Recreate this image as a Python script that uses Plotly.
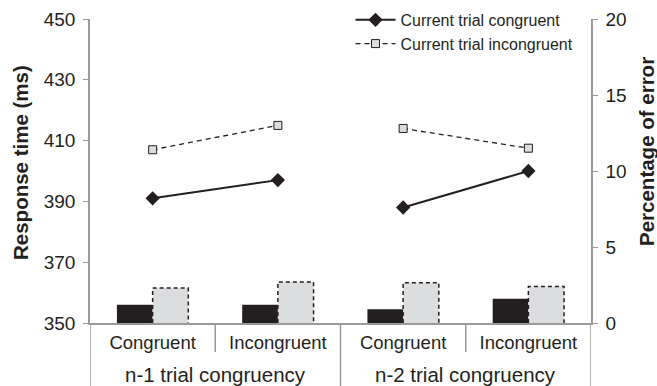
import plotly.graph_objects as go

categories = ["Congruent", "Incongruent", "Congruent", "Incongruent"]
groups = ["n-1 trial congruency", "n-2 trial congruency"]
rt_congruent = [391, 397, 388, 400]
rt_incongruent = [407, 415, 414, 407.5]
err_congruent = [1.2, 1.2, 0.9, 1.6]
err_incongruent = [2.3, 2.7, 2.65, 2.4]
rt_ticks = [350, 370, 390, 410, 430, 450]
err_ticks = [0, 5, 10, 15, 20]

FONT = "Liberation Sans, Arial, sans-serif"
TXT = "#231f20"
AX = "#9a9a9a"
xs = list(range(len(categories)))
BW = 0.285

fig = go.Figure()
fig.add_trace(go.Bar(x=xs, y=err_congruent, yaxis="y2", width=BW, offset=-BW,
                     marker=dict(color="#231f20", line=dict(width=0)), showlegend=False))
fig.add_trace(go.Bar(x=xs, y=err_incongruent, yaxis="y2", width=BW, offset=0,
                     marker=dict(color="#dcdddf", line=dict(width=0)), showlegend=False))
# dashed outline for light bars
ox, oy = [], []
for xi, h in zip(xs, err_incongruent):
    ox += [xi, xi, xi + BW, xi + BW, None]
    oy += [0, h, h, 0, None]
fig.add_trace(go.Scatter(x=ox, y=oy, yaxis="y2", mode="lines", showlegend=False,
                         line=dict(color="#231f20", width=1.5, dash="4px,3px"), hoverinfo="skip"))

for g in range(2):
    idx = [2 * g, 2 * g + 1]
    fig.add_trace(go.Scatter(x=[xs[i] for i in idx], y=[rt_congruent[i] for i in idx],
                             mode="lines+markers", name="Current trial congruent",
                             legendgroup="c", showlegend=(g == 0),
                             line=dict(color="#231f20", width=2),
                             marker=dict(symbol="diamond", size=11, color="#231f20")))
    fig.add_trace(go.Scatter(x=[xs[i] for i in idx], y=[rt_incongruent[i] for i in idx],
                             mode="lines+markers", name="Current trial incongruent",
                             legendgroup="i", showlegend=(g == 0),
                             line=dict(color="#231f20", width=1.3, dash="5px,4px"),
                             marker=dict(symbol="square", size=8, color="#dcdddf",
                                         line=dict(color="#231f20", width=1))))

shapes = []
for xv, y0 in [(-0.5, -0.25), (1.5, -0.25), (3.5, -0.25), (0.5, -0.095), (2.5, -0.095)]:
    shapes.append(dict(type="line", xref="x", yref="paper", x0=xv, x1=xv, y0=0, y1=y0,
                       line=dict(color=AX, width=1.5)))

L, R, T, B = 90, 66, 19, 63
W, H = 657, 386
pw, ph = W - L - R, H - T - B

annotations = []
for gi, gname in enumerate(groups):
    annotations.append(dict(x=gi * 2 + 0.5, y=0, xref="x", yref="paper", yshift=-51,
                            text=gname, showarrow=False, yanchor="middle",
                            font=dict(size=20.5, color=TXT, family=FONT)))
for px, py, txt in [(20, 163, "<b>Response time (ms)</b>"), (646, 152, "<b>Percentage of error</b>")]:
    annotations.append(dict(x=(px - L) / pw, y=(H - B - py) / ph, xref="paper", yref="paper",
                            text=txt, showarrow=False, textangle=-90, xanchor="center",
                            yanchor="middle", font=dict(size=20.5, color=TXT, family=FONT)))

fig.update_layout(
    width=W, height=H,
    margin=dict(l=L, r=R, t=T, b=B, autoexpand=False),
    paper_bgcolor="white", plot_bgcolor="white",
    barmode="overlay",
    font=dict(family=FONT, color=TXT),
    xaxis=dict(range=[-0.5, 3.5], tickvals=xs, ticktext=categories, showgrid=False,
               zeroline=False, showline=True, linecolor=AX, linewidth=1.5, ticks="",
               tickfont=dict(size=18.5, color=TXT, family=FONT), ticklabelstandoff=2,
               automargin=False),
    yaxis=dict(range=[350, 450], tickvals=rt_ticks, showgrid=False, zeroline=False,
               showline=True, linecolor=AX, linewidth=1.5, ticks="outside", ticklen=5,
               tickcolor=AX, tickfont=dict(size=19, color=TXT, family=FONT), ticklabelstandoff=4,
               automargin=False),
    yaxis2=dict(range=[0, 20], tickvals=err_ticks, overlaying="y", side="right", showgrid=False,
                zeroline=False, showline=True, linecolor=AX, linewidth=1.5, ticks="outside",
                ticklen=5, tickcolor=AX, tickfont=dict(size=19, color=TXT, family=FONT),
                ticklabelstandoff=4, automargin=False),
    legend=dict(x=0.52, y=1.053, xanchor="left", yanchor="top", bgcolor="rgba(0,0,0,0)",
                font=dict(size=16, color=TXT, family=FONT), tracegroupgap=0,
                itemwidth=40),
    shapes=shapes, annotations=annotations,
)
fig.write_html("out.html", config={"displayModeBar": False},
               post_script="document.body.style.margin='0';document.body.style.overflow='hidden';")
